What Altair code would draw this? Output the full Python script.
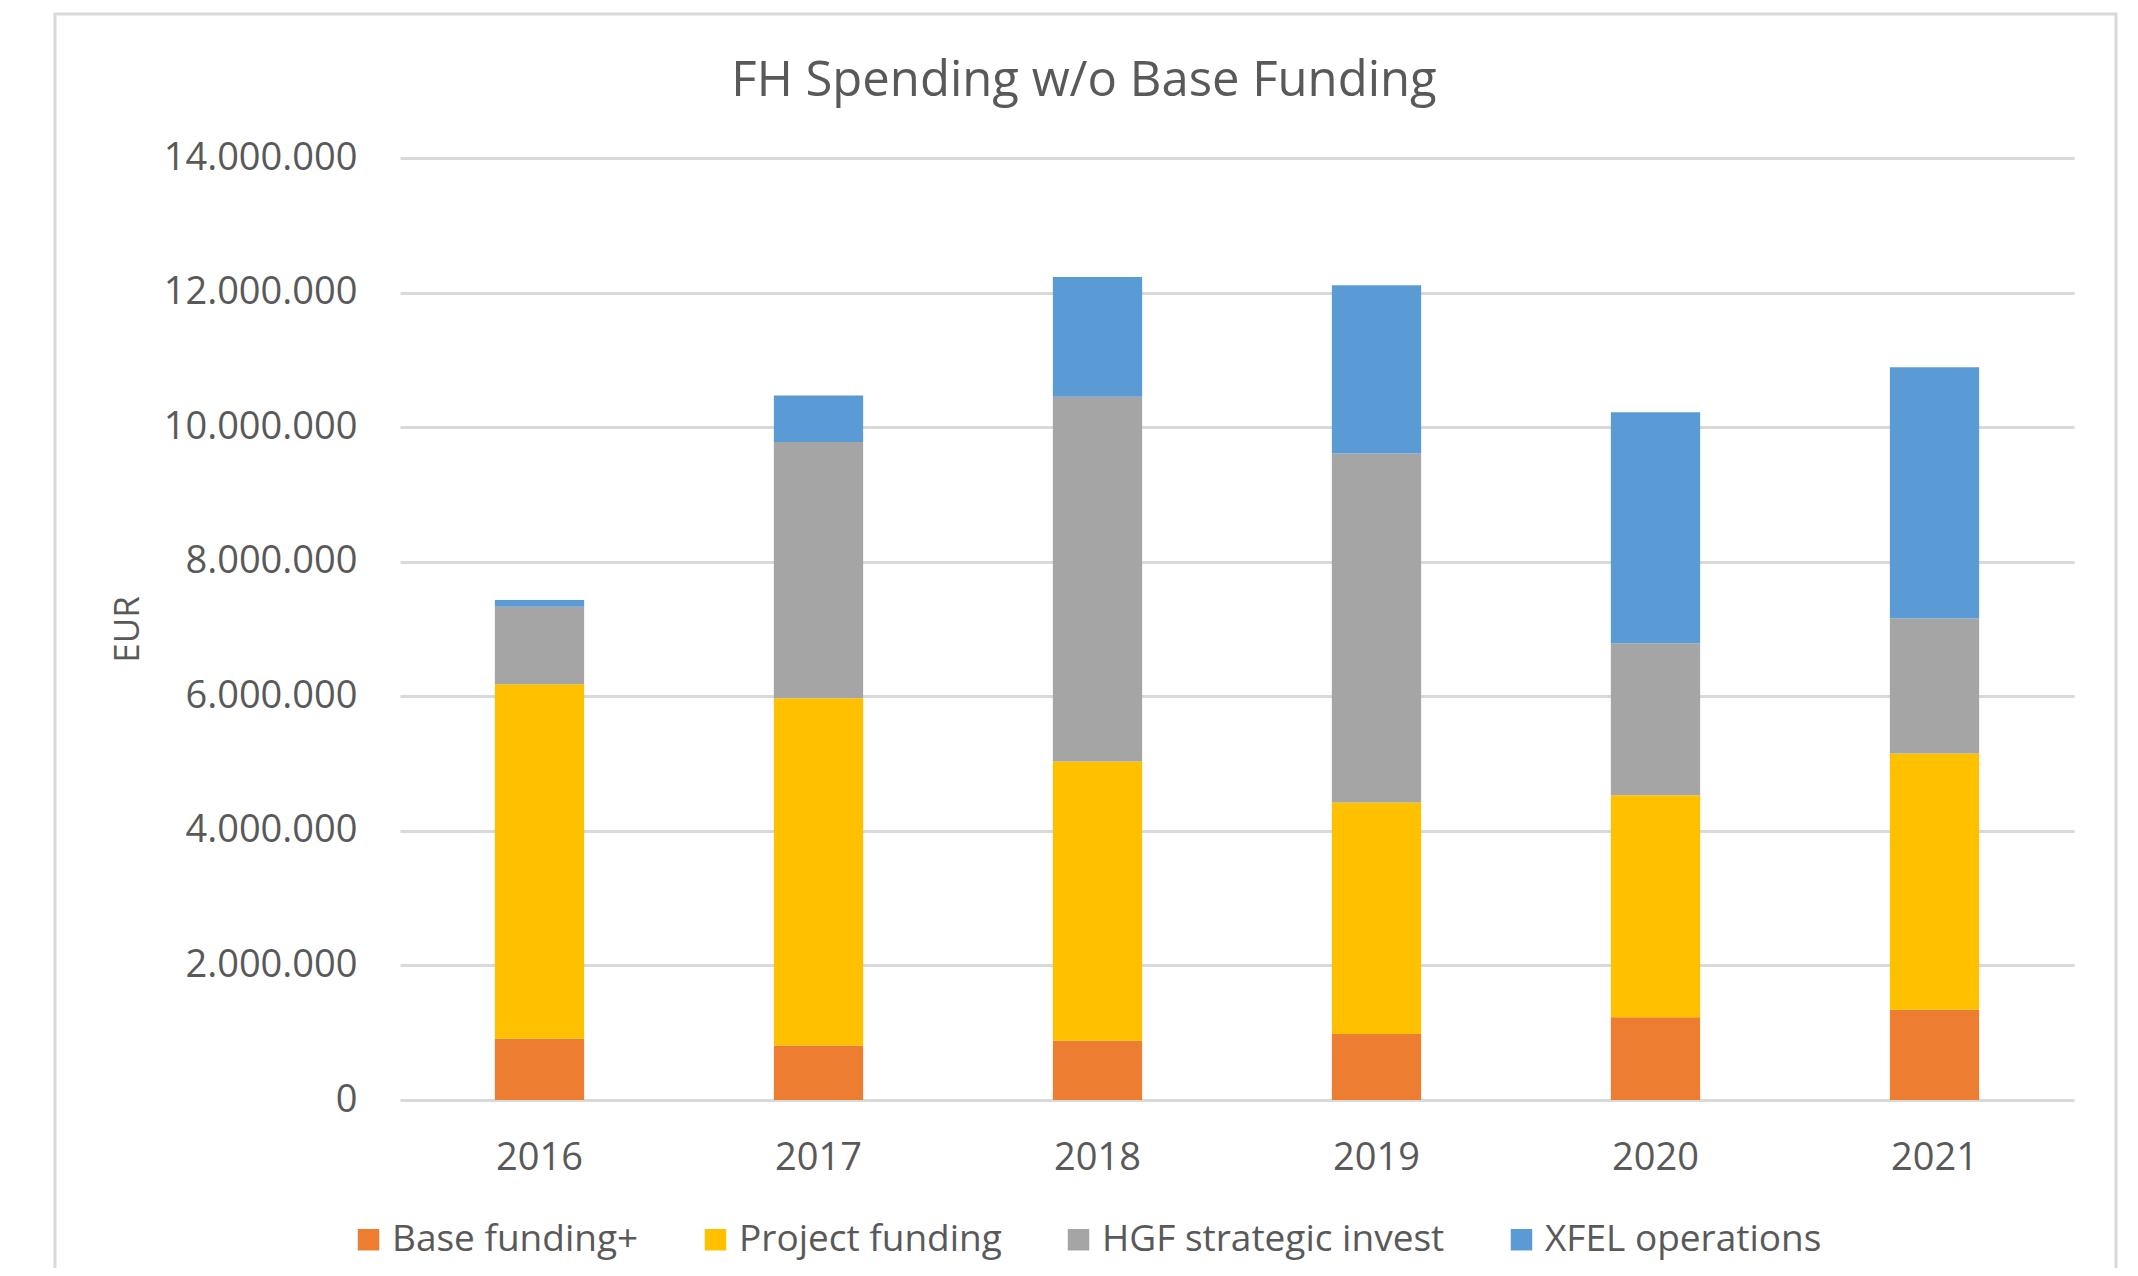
import altair as alt
import pandas as pd

years = ["2016", "2017", "2018", "2019", "2020", "2021"]
series = ["Base funding+", "Project funding", "HGF strategic invest", "XFEL operations"]
base_funding = [910000, 810000, 880000, 980000, 1230000, 1340000]
project_funding = [5270000, 5160000, 4150000, 3440000, 3300000, 3810000]
hgf_invest = [1150000, 3810000, 5420000, 5190000, 2260000, 2010000]
xfel_ops = [100000, 690000, 1780000, 2500000, 3430000, 3730000]
colors = ["#ED7D31", "#FFC000", "#A5A5A5", "#5B9BD5"]
y_ticks = [0, 2000000, 4000000, 6000000, 8000000, 10000000, 12000000, 14000000]

rows = []
for idx, (name, vals) in enumerate(zip(series, [base_funding, project_funding, hgf_invest, xfel_ops])):
    for yr, v in zip(years, vals):
        rows.append({"year": yr, "series": name, "value": v, "idx": idx})
df = pd.DataFrame(rows)

FONT = "Open Sans"
TXT = "#595959"
GRID = "#D9D9D9"

bars = alt.Chart(df).mark_bar().encode(
    x=alt.X("year:N", sort=years,
            scale=alt.Scale(paddingInner=0.68, paddingOuter=0.34),
            axis=alt.Axis(title=None, labelAngle=0, ticks=False, domain=False,
                          labelFont=FONT, labelFontSize=38, labelColor=TXT,
                          labelPadding=39, labelLimit=0)),
    y=alt.Y("value:Q", stack="zero",
            scale=alt.Scale(domain=[0, 14000000], nice=False),
            axis=alt.Axis(title="EUR", values=y_ticks, ticks=False, domain=False,
                          grid=True, gridColor=GRID, gridWidth=3,
                          labelFont=FONT, labelFontSize=38, labelColor=TXT,
                          labelPadding=43, labelLimit=0,
                          labelExpr="replace(format(datum.value, ',d'), regexp(',', 'g'), '.')",
                          titleFont=FONT, titleFontSize=35, titleColor=TXT,
                          titleFontWeight="normal", titleAngle=-90,
                          titleX=-273, titleY=471, titleAlign="center",
                          titleBaseline="middle")),
    color=alt.Color("series:N",
                    scale=alt.Scale(domain=series, range=colors),
                    legend=alt.Legend(title=None, orient="none", legendX=-50, legendY=1063,
                                      direction="horizontal", symbolType="square",
                                      symbolSize=460, symbolStrokeWidth=0,
                                      labelFont=FONT, labelFontSize=37, labelColor=TXT,
                                      labelLimit=0,
                                      labelOffset=5, columnPadding=58, padding=0)),
    order=alt.Order("idx:Q", sort="ascending"),
)

border = alt.Chart(pd.DataFrame({"a": [0]})).mark_rect(
    filled=False, stroke=GRID, strokeWidth=3
).encode(
    x=alt.value(-345), x2=alt.value(1716), y=alt.value(-144), y2=alt.value(1200)
)

chart = alt.layer(border, bars).properties(
    width=1674,
    height=942,
    padding={"left": 392, "top": 150, "right": 56, "bottom": 168},
    autosize=alt.AutoSizeParams(type="none"),
    title=alt.TitleParams("FH Spending w/o Base Funding", anchor="middle", dx=-153,
                          font=FONT, fontSize=49, fontWeight="normal", color=TXT,
                          offset=-93),
).configure(font=FONT).configure_view(strokeWidth=0)

chart.save("out.html", embed_options={"renderer": "svg", "actions": False})
